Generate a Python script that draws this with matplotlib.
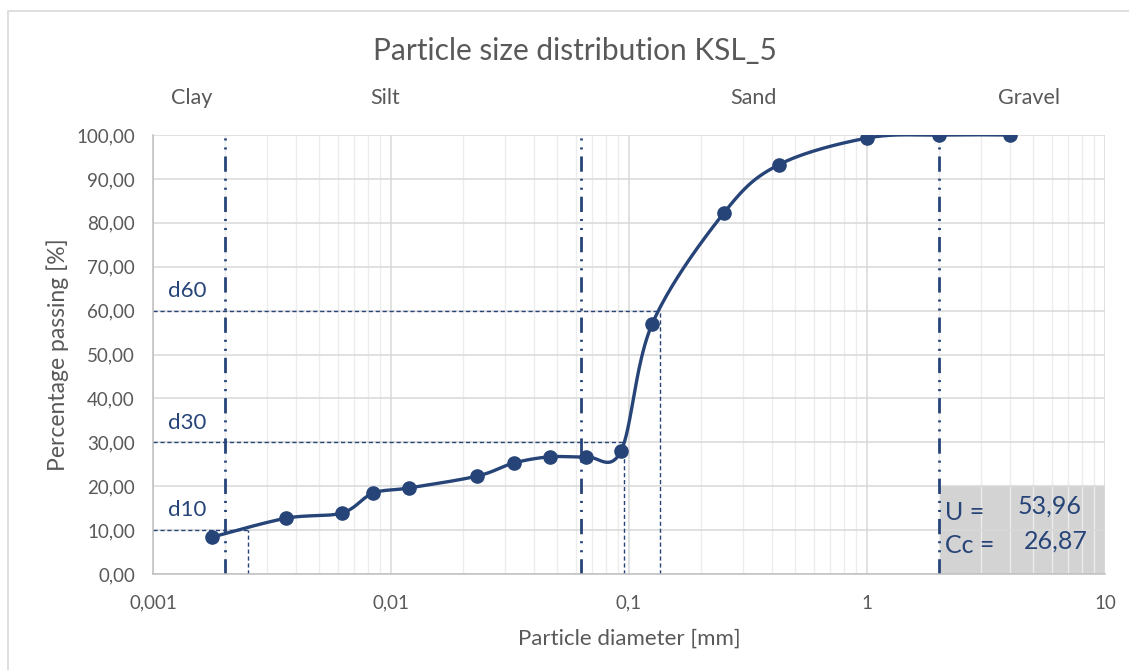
import numpy as np
import matplotlib
matplotlib.use("Agg")
import matplotlib.pyplot as plt
from matplotlib.ticker import FixedLocator, LogLocator, NullFormatter, FuncFormatter
from matplotlib.patches import Rectangle

plt.rcParams['font.family'] = ['Lato', 'DejaVu Sans']
plt.rcParams['lines.scale_dashes'] = False

# Sieve / hydrometer results
diameter_mm = [0.00177, 0.00362, 0.00622, 0.00840, 0.0119, 0.0230, 0.0329,
               0.0466, 0.0662, 0.0925, 0.125, 0.25, 0.425, 1.0, 2.0, 4.0]
passing_pct = [8.4, 12.7, 13.9, 18.4, 19.6, 22.3, 25.3,
               26.7, 26.7, 28.0, 56.9, 82.2, 93.2, 99.3, 100.0, 100.0]

# Characteristic diameters
d10, d30, d60 = 0.0025, 0.0952, 0.1349
d_levels = [10, 30, 60]
d_values = [d10, d30, d60]
d_names = ['d10', 'd30', 'd60']

# Soil class boundaries and names
class_bounds = [0.002, 0.063, 2.0]
class_names = ['Clay', 'Silt', 'Sand', 'Gravel']
class_name_x = [0.00146, 0.00944, 0.334, 4.8]

U_text = '53,96'
Cc_text = '26,87'

BLUE = '#264478'
TXT = '#595959'

fig = plt.figure(figsize=(11.29, 6.70), dpi=100)
ax = fig.add_axes([153 / 1129, 1 - 574 / 670, (1105 - 153) / 1129, (574 - 135) / 670])

# chart area border
fig.patches.append(Rectangle((8 / 1129, -0.05), 1.2, 1 - 11 / 670 + 0.05,
                             transform=fig.transFigure, fill=False,
                             edgecolor='#d9d9d9', linewidth=1.2, zorder=0))

ax.set_xscale('log')
ax.set_xlim(0.001, 10)
ax.set_ylim(0, 100)
ax.set_axisbelow(True)

ax.yaxis.set_major_locator(FixedLocator(np.arange(0, 101, 10)))
ax.xaxis.set_major_locator(LogLocator(base=10, numticks=10))
ax.xaxis.set_minor_locator(LogLocator(base=10, subs=np.arange(2, 10), numticks=50))
ax.xaxis.set_minor_formatter(NullFormatter())
ax.xaxis.set_major_formatter(FuncFormatter(lambda v, p: ('%g' % v).replace('.', ',')))
ax.yaxis.set_major_formatter(FuncFormatter(lambda v, p: ('%.2f' % v).replace('.', ',')))

ax.grid(which='major', color='#d9d9d9', linewidth=1.1)
ax.grid(which='minor', axis='x', color='#ececec', linewidth=1.0)
for s in ['top', 'right']:
    ax.spines[s].set_visible(False)
for s in ['left', 'bottom']:
    ax.spines[s].set_color('#bfbfbf')
    ax.spines[s].set_linewidth(1.1)
ax.tick_params(which='both', length=0, labelsize=13.5, labelcolor=TXT)
ax.tick_params(axis='x', pad=15)
ax.tick_params(axis='y', pad=13)

# shaded result box
ax.add_patch(Rectangle((2.0, 0), 8.0, 20, facecolor='#d3d3d3', edgecolor='none', zorder=0.4))
ax.text(2.12, 14.0, 'U =', color=BLUE, fontsize=18, ha='left', va='center')
ax.text(5.87, 15.4, U_text, color=BLUE, fontsize=18, ha='center', va='center')
ax.text(2.12, 6.6, 'Cc =', color=BLUE, fontsize=18, ha='left', va='center')
ax.text(6.22, 7.5, Cc_text, color=BLUE, fontsize=18, ha='center', va='center')

# class boundaries
for xb in class_bounds:
    ax.axvline(xb, color=BLUE, linewidth=2.0, dashes=(11, 5, 1.5, 5, 1.5, 5), zorder=2)

# characteristic diameter guide lines
for lvl, dv, nm in zip(d_levels, d_values, d_names):
    ax.plot([0.001, dv], [lvl, lvl], color=BLUE, linewidth=1.0, dashes=(3, 2), zorder=2)
    ax.plot([dv, dv], [0, lvl], color=BLUE, linewidth=1.0, dashes=(3, 2), zorder=2)
    ax.text(0.00116, lvl + 4.5, nm, color=BLUE, fontsize=16, ha='left', va='center')

# smoothed curve through the measured points (Bezier in screen space)
fig.canvas.draw()
pts = ax.transData.transform(np.column_stack([diameter_mm, passing_pct]))
n = len(pts)
curve = []
for i in range(n - 1):
    p0 = pts[max(i - 1, 0)]
    p1 = pts[i]
    p2 = pts[i + 1]
    p3 = pts[min(i + 2, n - 1)]
    c1 = p1 + (p2 - p0) / 6.0
    c2 = p2 - (p3 - p1) / 6.0
    t = np.linspace(0, 1, 40)[:, None]
    seg = ((1 - t) ** 3) * p1 + 3 * ((1 - t) ** 2) * t * c1 + 3 * (1 - t) * t ** 2 * c2 + t ** 3 * p2
    curve.append(seg if i == 0 else seg[1:])
curve = ax.transData.inverted().transform(np.vstack(curve))
ax.plot(curve[:, 0], curve[:, 1], color=BLUE, linewidth=2.4, zorder=3,
        solid_capstyle='round')
ax.plot(diameter_mm, passing_pct, linestyle='none', marker='o', markersize=9.5,
        color=BLUE, zorder=4)

# class names above the plot
for nm, xc in zip(class_names, class_name_x):
    ax.text(xc, 1.0 + (135 - 98) / 439, nm, transform=ax.get_xaxis_transform(),
            ha='center', va='center', fontsize=15.5, color=TXT)

fig.text(575 / 1129, 1 - 51 / 670, 'Particle size distribution KSL_5',
         ha='center', va='center', fontsize=21.5, color=TXT)
ax.set_xlabel('Particle diameter [mm]', fontsize=16, color=TXT, labelpad=12)
ax.set_ylabel('Percentage passing [%]', fontsize=16.5, color=TXT, labelpad=5)

fig.savefig('out.png', dpi=100)
